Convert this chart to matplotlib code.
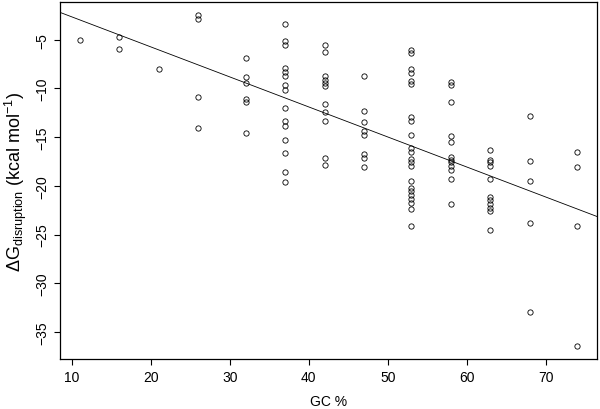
import matplotlib
matplotlib.use("Agg")
import matplotlib.pyplot as plt
import numpy as np

plt.rcParams["font.family"] = ["Liberation Sans", "DejaVu Sans"]
plt.rcParams["mathtext.fontset"] = "custom"
plt.rcParams["mathtext.rm"] = "Liberation Sans"
plt.rcParams["mathtext.it"] = "Liberation Sans:italic"
plt.rcParams["mathtext.bf"] = "Liberation Sans:bold"

# --- data (GC % column -> disruption energies) ---
gc_11 = [-5.0]
gc_16 = [-4.7, -6.0]
gc_21 = [-8.0]
gc_26 = [-2.5, -2.9, -10.9, -14.1]
gc_32 = [-6.9, -8.8, -9.4, -11.1, -11.4, -14.6]
gc_37 = [-3.4, -5.1, -5.6, -7.9, -8.3, -8.7, -9.7, -10.2, -12.0, -13.3,
         -13.9, -15.3, -16.6, -18.6, -19.6]
gc_42 = [-5.6, -6.3, -8.7, -9.1, -9.4, -9.8, -11.6, -12.4, -13.3, -17.1, -17.9]
gc_47 = [-8.7, -12.3, -13.4, -14.4, -14.8, -16.7, -17.1, -18.1]
gc_53 = [-6.1, -6.4, -8.0, -8.4, -9.2, -9.6, -12.9, -13.3, -14.8, -16.1,
         -16.5, -17.2, -17.6, -18.0, -19.5, -20.2, -20.5, -20.9, -21.3,
         -21.8, -22.4, -24.1]
gc_58 = [-9.3, -9.7, -11.4, -14.9, -15.5, -17.0, -17.3, -17.6, -18.0, -18.4,
         -19.3, -21.9]
gc_63 = [-16.3, -17.3, -17.6, -18.0, -19.3, -21.1, -21.5, -21.9, -22.3,
         -22.6, -24.5]
gc_68 = [-12.8, -17.4, -19.5, -23.8, -32.9]
gc_74 = [-16.5, -18.1, -24.1, -36.4]

columns = {
    11: gc_11, 16: gc_16, 21: gc_21, 26: gc_26, 32: gc_32, 37: gc_37,
    42: gc_42, 47: gc_47, 53: gc_53, 58: gc_58, 63: gc_63, 68: gc_68,
    74: gc_74,
}

x_ticks = [10, 20, 30, 40, 50, 60, 70]
y_ticks = [-35, -30, -25, -20, -15, -10, -5]

gc = np.concatenate([[k] * len(v) for k, v in columns.items()])
dg = np.concatenate([v for v in columns.values()])

fig = plt.figure(figsize=(6.0, 4.1), dpi=100)
ax = fig.add_axes([60 / 600, 1 - 360 / 410, 537 / 600, 357 / 410])

ax.plot(gc, dg, linestyle="none", marker="o", markersize=3.8,
        markerfacecolor="none", markeredgecolor="black", markeredgewidth=0.6)

# least squares line, like abline(lm(dg ~ gc))
slope, intercept = np.polyfit(gc, dg, 1)
ax.margins(x=0.04, y=0.04)
ax.autoscale_view()
ax.set_autoscale_on(False)
ax.axline((0, intercept), slope=slope, color="black", linewidth=0.6)

ax.set_xticks(x_ticks)
ax.set_yticks(y_ticks)
ax.tick_params(direction="out", length=4, width=0.8, labelsize=10, pad=4)
for lab in ax.get_yticklabels():
    lab.set_rotation(90)
    lab.set_va("center")
for sp in ax.spines.values():
    sp.set_linewidth(0.9)

ax.set_xlabel("GC %", fontsize=10)
ax.xaxis.set_label_coords(0.5, -0.098)
ax.set_ylabel(r"$\Delta$G$_{\mathrm{disruption}}$ (kcal mol$^{-1}$)",
              fontsize=13)
ax.yaxis.set_label_coords(-0.058, 0.5)

fig.savefig("out.png", dpi=100)
